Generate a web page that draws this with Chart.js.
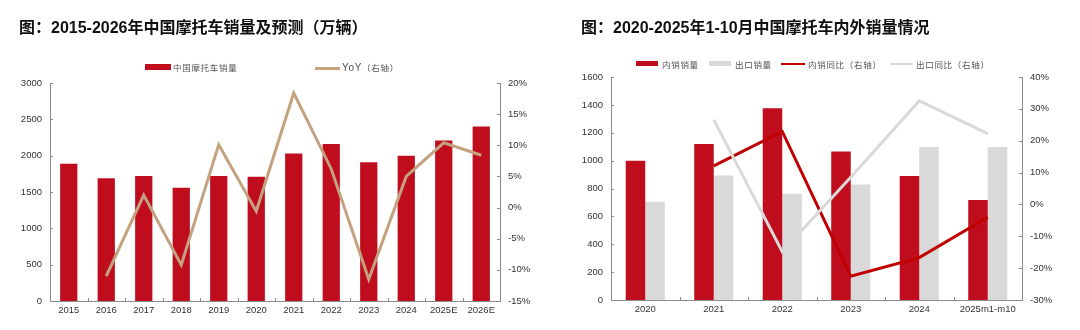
<!DOCTYPE html>
<html>
<head>
<meta charset="utf-8">
<script src="https://cdn.jsdelivr.net/npm/chart.js@4/dist/chart.umd.min.js"></script>
<style>
  html, body { margin: 0; padding: 0; background: #fff; }
  #wrap { position: relative; width: 1080px; height: 330px; overflow: hidden; }
  canvas { position: absolute; top: 0; }
  .title { position: absolute; font: bold 16px 'Liberation Sans', 'Noto Sans CJK SC', sans-serif; color: #111; white-space: nowrap; line-height: 20px; z-index: 2; }
  .lg { position: absolute; z-index: 2; }
  .lg-box { position: absolute; }
  .lg-txt { position: absolute; font: 8.5px 'Noto Sans CJK SC', sans-serif; color: #555; letter-spacing: 0.7px; white-space: nowrap; line-height: 12px; }
  .lg-txt.lat { font-family: 'Liberation Sans', 'Noto Sans CJK SC', sans-serif; font-size: 10px; letter-spacing: 0.3px; }
</style>
</head>
<body>
<div id="wrap">
  <canvas id="c1" width="540" height="330" style="left:0"></canvas>
  <canvas id="c2" width="540" height="330" style="left:540px"></canvas>

  <div class="title" style="left:19px; top:18px;">图：2015-2026年中国摩托车销量及预测（万辆）</div>
  <div class="title" style="left:581px; top:18px;">图：2020-2025年1-10月中国摩托车内外销量情况</div>

  <!-- legend, left chart -->
  <div class="lg-box" style="left:145px; top:64px; width:26px; height:6px; background:#C00D1E;"></div>
  <div class="lg-txt" style="left:173px; top:61px;">中国摩托车销量</div>
  <div class="lg-box" style="left:315px; top:67px; width:25px; height:3px; background:#C4A27F;"></div>
  <div class="lg-txt" style="left:342px; top:61px;"><span style="font-family:'Liberation Sans';font-size:10px;">YoY</span>（右轴）</div>

  <!-- legend, right chart -->
  <div class="lg-box" style="left:636px; top:61px; width:22px; height:5px; background:#C00D1E;"></div>
  <div class="lg-txt" style="left:662px; top:57.5px;">内销销量</div>
  <div class="lg-box" style="left:709px; top:61px; width:22px; height:5px; background:#D9D9D9;"></div>
  <div class="lg-txt" style="left:735px; top:57.5px;">出口销量</div>
  <div class="lg-box" style="left:781px; top:62.5px; width:24px; height:2.5px; background:#C00000;"></div>
  <div class="lg-txt" style="left:808px; top:57.5px;">内销同比（右轴）</div>
  <div class="lg-box" style="left:890px; top:62.5px; width:23px; height:2.5px; background:#D9D9D9;"></div>
  <div class="lg-txt" style="left:916px; top:57.5px;">出口同比（右轴）</div>
</div>

<script>
// ---- Annual motorcycle sales (10k units) and YoY ----
const years = ['2015', '2016', '2017', '2018', '2019', '2020', '2021', '2022', '2023', '2024', '2025E', '2026E'];
const sales = [1890, 1690, 1720, 1560, 1720, 1710, 2030, 2160, 1910, 2000, 2210, 2400];
const salesYoy = [null, -11.0, 2.0, -9.2, 10.1, -0.6, 18.4, 6.2, -11.5, 5.0, 10.4, 8.4];
const salesTicks = [0, 500, 1000, 1500, 2000, 2500, 3000];
const yoyTicks = [-15, -10, -5, 0, 5, 10, 15, 20];

// ---- Domestic vs export sales, 2020 to Jan-Oct 2025 ----
const periods = ['2020', '2021', '2022', '2023', '2024', '2025m1-m10'];
const domestic = [1000, 1120, 1375, 1065, 890, 718];
const exported = [705, 893, 762, 828, 1097, 1097];
const domesticYoy = [null, 12.1, 22.9, -22.5, -16.7, -4.0];
const exportYoy = [null, 26.6, -14.8, 8.5, 32.5, 22.2];
const volumeTicks = [0, 200, 400, 600, 800, 1000, 1200, 1400, 1600];
const shareTicks = [-30, -20, -10, 0, 10, 20, 30, 40];

const RED = '#C00D1E';
const TAN = '#C4A27F';
const GREY = '#D9D9D9';
const LINE_RED = '#C00000';
const AXIS = '#8C8C8C';
const TICK_FONT = { family: "'Liberation Sans', Arial, sans-serif", size: 9.5 };
const TICK_COLOR = '#333';

// Short tick marks drawn inward from each axis line
const inwardTicks = {
  id: 'inwardTicks',
  afterDatasetsDraw(chart) {
    const { ctx, chartArea: a, scales } = chart;
    const len = 3;
    ctx.save();
    ctx.strokeStyle = AXIS;
    ctx.lineWidth = 1;
    ctx.beginPath();
    const x = scales.x;
    const n = x.getLabels().length;
    for (let i = 0; i < n - 1; i++) {
      const px = Math.round((x.getPixelForValue(i) + x.getPixelForValue(i + 1)) / 2) + 0.5;
      ctx.moveTo(px, a.bottom);
      ctx.lineTo(px, a.bottom - len);
    }
    for (const id of ['y', 'y1']) {
      const s = scales[id];
      const right = s.position === 'right';
      const ax = right ? a.right : a.left;
      s.ticks.forEach(t => {
        const py = Math.round(s.getPixelForValue(t.value)) + 0.5;
        ctx.moveTo(ax, py);
        ctx.lineTo(right ? ax - len : ax + len, py);
      });
    }
    ctx.stroke();
    ctx.restore();
  }
};

function axisY(position, min, max, step, width, fmt, tickValues) {
  return {
    position, min, max,
    grid: { display: false, drawTicks: false, drawOnChartArea: false },
    border: { display: true, color: AXIS, width: 1 },
    ticks: {
      stepSize: step, padding: 8, font: TICK_FONT, color: TICK_COLOR,
      callback: v => tickValues.includes(v) ? fmt(v) : ''
    },
    afterFit: s => { s.width = width; }
  };
}

function axisX(height) {
  return {
    grid: { display: false, drawTicks: false, drawOnChartArea: false },
    border: { display: true, color: AXIS, width: 1 },
    ticks: { padding: 4, font: TICK_FONT, color: TICK_COLOR, maxRotation: 0, autoSkip: false },
    afterFit: s => { s.height = height; }
  };
}

const common = {
  responsive: false,
  animation: false,
  devicePixelRatio: 1,
  plugins: { legend: { display: false }, tooltip: { enabled: false } },
};

new Chart(document.getElementById('c1'), {
  data: {
    labels: years,
    datasets: [
      { type: 'line', data: salesYoy, yAxisID: 'y1', borderColor: TAN, borderWidth: 3,
        pointRadius: 0, tension: 0, order: 0, spanGaps: false },
      { type: 'bar', data: sales, yAxisID: 'y', backgroundColor: RED,
        barPercentage: 0.46, categoryPercentage: 1, order: 1 }
    ]
  },
  options: {
    ...common,
    layout: { padding: { top: 83, bottom: 0, left: 0, right: 0 } },
    scales: {
      x: axisX(29),
      y: axisY('left', 0, 3000, 500, 50, v => String(v), salesTicks),
      y1: axisY('right', -15, 20, 5, 40, v => v + '%', yoyTicks)
    }
  },
  plugins: [inwardTicks]
});

new Chart(document.getElementById('c2'), {
  data: {
    labels: periods,
    datasets: [
      { type: 'line', data: exportYoy, yAxisID: 'y1', borderColor: GREY, borderWidth: 3,
        pointRadius: 0, tension: 0, order: 0 },
      { type: 'line', data: domesticYoy, yAxisID: 'y1', borderColor: LINE_RED, borderWidth: 3,
        pointRadius: 0, tension: 0, order: 1 },
      { type: 'bar', data: domestic, yAxisID: 'y', backgroundColor: RED,
        barPercentage: 1, categoryPercentage: 0.57, order: 2 },
      { type: 'bar', data: exported, yAxisID: 'y', backgroundColor: GREY,
        barPercentage: 1, categoryPercentage: 0.57, order: 3 }
    ]
  },
  options: {
    ...common,
    layout: { padding: { top: 77, bottom: 0, left: 0, right: 0 } },
    scales: {
      x: axisX(30),
      y: axisY('left', 0, 1600, 200, 71, v => String(v), volumeTicks),
      y1: axisY('right', -30, 40, 10, 58, v => v + '%', shareTicks)
    }
  },
  plugins: [inwardTicks]
});
</script>
</body>
</html>
